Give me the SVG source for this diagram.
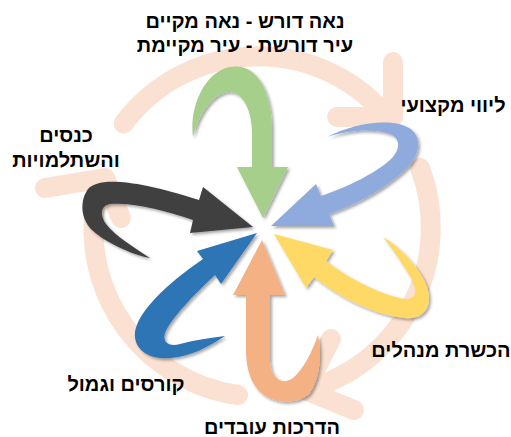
<svg xmlns="http://www.w3.org/2000/svg" width="511" height="437" viewBox="0 0 511 437">
<defs>
<style>
.ring{fill:none;stroke:#FBE1D1;stroke-width:20;stroke-linecap:round;stroke-linejoin:round}
.arr{filter:url(#sh)}
.lbl{font-family:"Liberation Sans",Arial,sans-serif;font-weight:bold;font-size:20px;fill:#000;text-anchor:middle}
</style>
<filter id="sh" x="-20%" y="-20%" width="140%" height="140%">
<feDropShadow dx="2" dy="2" stdDeviation="1.5" flood-color="#000" flood-opacity="0.35"/>
</filter>
</defs>
<rect width="511" height="437" fill="#fff"/>
<g id="connectors">
<path class="ring" d="M 123.6,123.5 A 168 168 0 0 1 388,118"/>
<path class="ring" d="M 393,62 L 393,117 L 337,117"/>
<path class="ring" d="M 420,168 A 168 168 0 0 1 305,390"/>
<path class="ring" d="M 331,339 L 305,390 L 354,410"/>
<path class="ring" d="M 238,395 A 168 168 0 0 1 100,182"/>
<path class="ring" d="M 45,188 L 105,178 L 121,218"/>
</g>
<g id="node-green">
<path class="arr" fill="#A5CF8A" d="M 193,137 C 189,108 204,72 230,67 C 257,62 271,92 272,125 L 272,167 L 288,167 L 263,218 L 237,167 L 252,167 L 252,130 C 251,108 242,91 228,92 C 212,94 199,114 193,137 Z"/>
<text class="lbl" direction="rtl" x="245" y="28">נאה דורש - נאה מקיים</text>
<text class="lbl" direction="rtl" x="245" y="52">עיר דורשת - עיר מקיימת</text>
</g>
<g id="node-lightblue">
<path class="arr" fill="#8FAADC" d="M 327,137 C 352,124 390,117 409,128 C 424,137 419,158 405,170 C 390,184 362,203 329,214 L 334,226 L 271,226 L 316,184 L 321,196 C 348,187 378,172 392,158 C 401,148 400,138 390,134 C 373,128 348,130 327,137 Z"/>
<text class="lbl" direction="rtl" x="453" y="112">ליווי מקצועי</text>
</g>
<g id="node-yellow">
<path class="arr" fill="#FFD966" d="M 274,234 L 333,250 L 326,261 C 350,280 385,296 405,299 C 416,300 418,290 412,280 C 405,268 395,252 383,237 C 400,247 420,268 427,287 C 433,305 425,320 405,318 C 375,315 340,298 314,277 L 306,288 Z"/>
<text class="lbl" direction="rtl" x="441" y="357">הכשרת מנהלים</text>
</g>
<g id="node-orange">
<path class="arr" fill="#F4B183" d="M 262,240 L 285,295 L 270,295 L 270,362 C 271,378 282,386 293,378 C 303,370 312,352 318,335 C 322,355 320,378 310,393 C 298,405 272,405 258,390 C 248,378 246,362 246,350 L 246,295 L 233,295 Z"/>
<text class="lbl" direction="rtl" x="272" y="434">הדרכות עובדים</text>
</g>
<g id="node-blue">
<path class="arr" fill="#2E75B6" d="M 257,233 L 221,284 L 215,275 C 193,296 172,317 165,333 C 162,343 170,347 180,344 C 195,340 210,338 225,336 C 210,346 190,357 170,358 C 150,360 133,350 135,332 C 138,312 165,285 203,259 L 197,251 Z"/>
<text class="lbl" direction="rtl" x="126" y="391">קורסים וגמול</text>
</g>
<g id="node-dark">
<path class="arr" fill="#404040" d="M 253,227 L 190,233 L 193,220 C 165,210 130,202 110,204 C 100,206 100,215 106,224 C 115,236 135,248 150,258 C 130,254 105,242 92,230 C 80,218 80,200 88,189 C 98,178 130,178 199,200 L 203,187 Z"/>
<text class="lbl" direction="rtl" x="66" y="142">כנסים</text>
<text class="lbl" direction="rtl" x="66" y="167">והשתלמויות</text>
</g>
</svg>
